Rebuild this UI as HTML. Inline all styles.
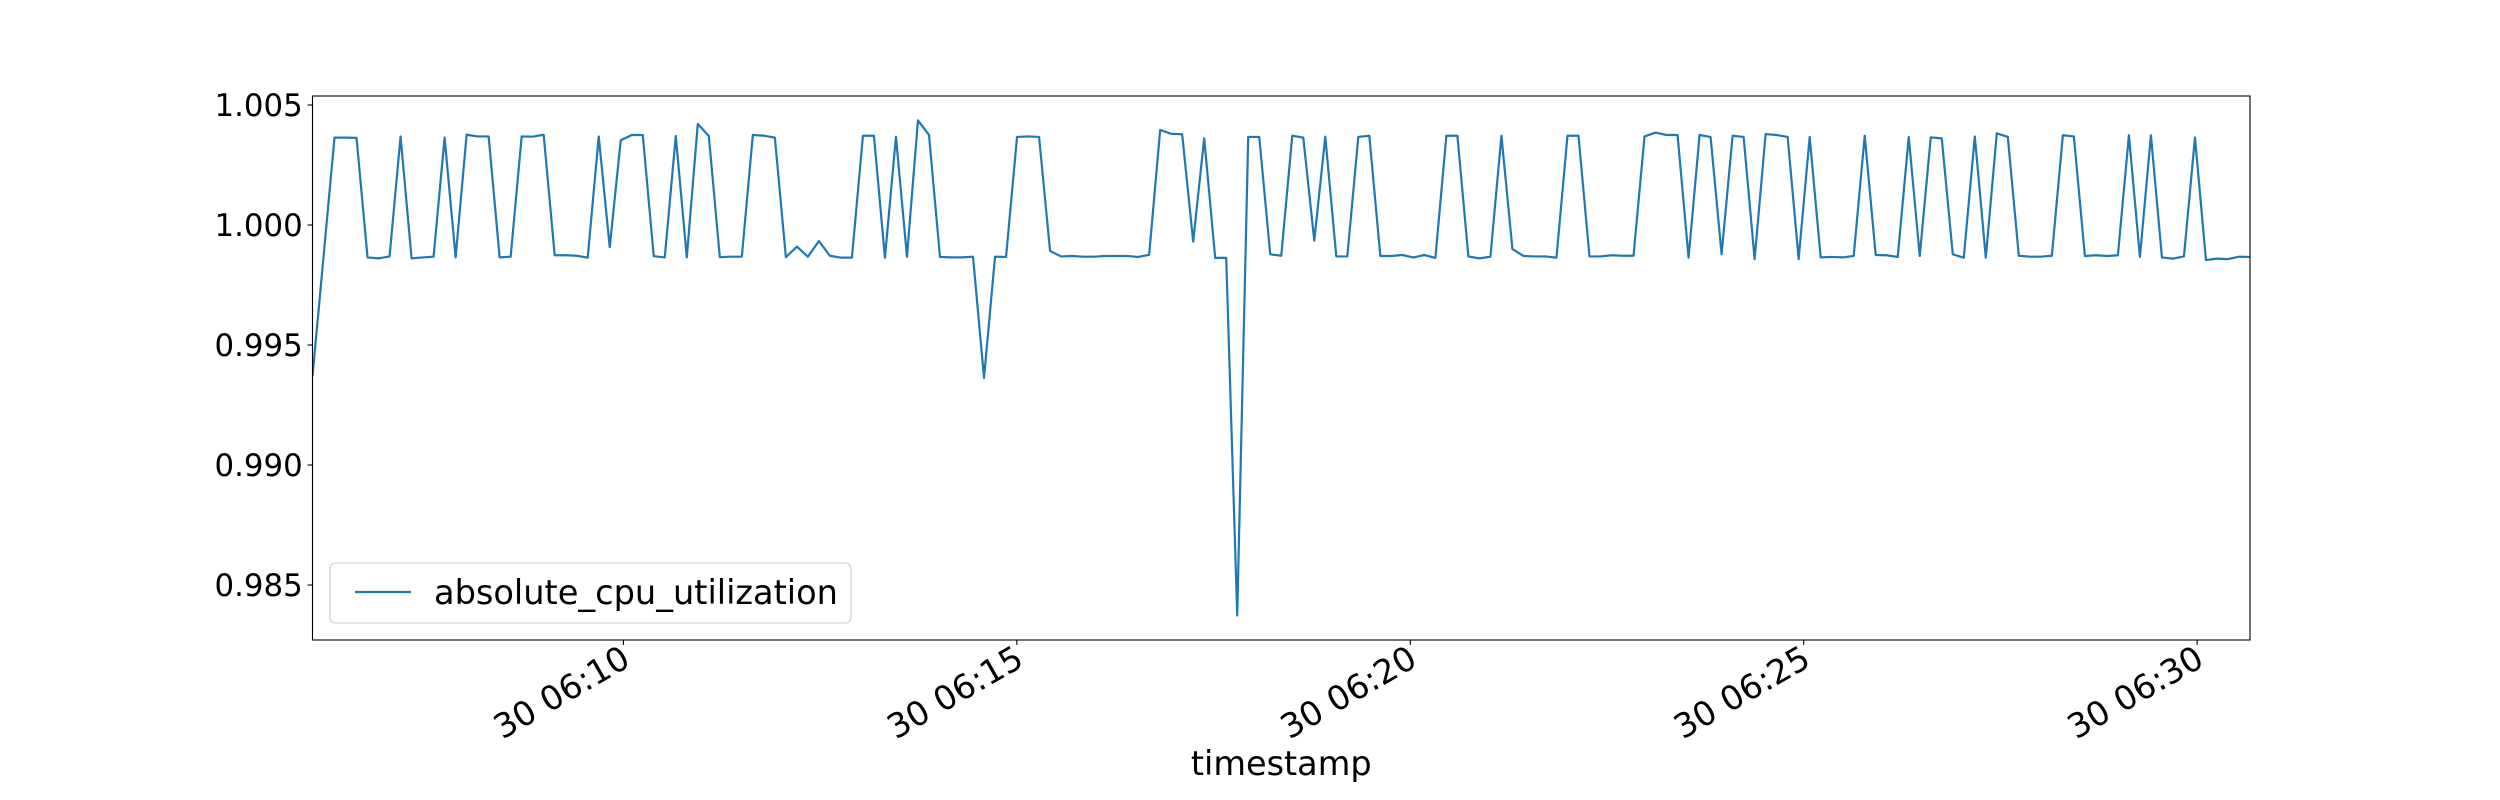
<!DOCTYPE html>
<html>
<head>
<meta charset="utf-8">
<style>
  html, body { margin: 0; padding: 0; background: #fff; }
  svg { display: block; }
  text { font-family: "DejaVu Sans", "Liberation Sans", sans-serif; fill: #000; }
</style>
</head>
<body>
<svg id="chart" width="2500" height="800" viewBox="0 0 2500 800" xmlns="http://www.w3.org/2000/svg">
  <rect x="0" y="0" width="2500" height="800" fill="#fff"/>
  <g id="plot"></g>
</svg>
<script>
// ---- data ----
const seriesName = "absolute_cpu_utilization";
const startSeconds = 21962.9;      // 06:06:02.9
const intervalSeconds = 8.3944;
const cpuValues = [
0.99370,0.99867,1.00364,1.00364,1.00363,0.99865,0.99861,0.99869,1.00369,0.99861,
0.99865,0.99868,1.00364,0.99865,1.00376,1.00369,1.00369,0.99865,0.99868,1.00369,
1.00368,1.00376,0.99874,0.99874,0.99872,0.99864,1.00369,0.99908,1.00353,1.00375,
1.00375,0.99870,0.99865,1.00371,0.99865,1.00421,1.00371,0.99866,0.99868,0.99868,
1.00375,1.00372,1.00364,0.99866,0.99910,0.99868,0.99933,0.99872,0.99864,0.99864,
1.00372,1.00372,0.99864,1.00368,0.99868,1.00436,1.00375,0.99867,0.99865,0.99865,
0.99868,0.99363,0.99868,0.99867,1.00367,1.00369,1.00367,0.99892,0.99869,0.99871,
0.99868,0.99868,0.99871,0.99871,0.99871,0.99867,0.99876,1.00396,1.00380,1.00378,
0.99931,1.00361,0.99863,0.99863,0.98373,1.00367,1.00367,0.99878,0.99872,1.00372,
1.00364,0.99935,1.00368,0.99869,0.99869,1.00367,1.00372,0.99871,0.99871,0.99875,
0.99865,0.99875,0.99863,1.00372,1.00372,0.99869,0.99861,0.99868,1.00372,0.99900,
0.99871,0.99869,0.99869,0.99864,1.00372,1.00372,0.99869,0.99869,0.99874,0.99872,
0.99872,1.00369,1.00385,1.00375,1.00375,0.99864,1.00375,1.00367,0.99878,1.00372,
1.00367,0.99858,1.00379,1.00375,1.00367,0.99858,1.00367,0.99865,0.99867,0.99865,
0.99871,1.00372,0.99875,0.99874,0.99867,1.00367,0.99871,1.00365,1.00361,0.99878,
0.99864,1.00369,0.99864,1.00382,1.00367,0.99872,0.99868,0.99868,0.99872,1.00374,
1.00369,0.99871,0.99874,0.99871,0.99874,1.00374,0.99867,1.00374,0.99865,0.99860,
0.99869,1.00364,0.99854,0.99860,0.99858,0.99868,0.99867
];
const yTickValues = [0.985, 0.990, 0.995, 1.000, 1.005];
const yTickLabels = ["0.985", "0.990", "0.995", "1.000", "1.005"];
const xTickMinutes = [10, 15, 20, 25, 30];
const xTickLabels = ["30 06:10", "30 06:15", "30 06:20", "30 06:25", "30 06:30"];

// ---- layout ----
const L = 312.5, R = 2250, T = 96, B = 640;
const yMin = 0.982710, yMax = 1.005375;
const tEnd = startSeconds + intervalSeconds * (cpuValues.length - 1);
const xScale = t => L + (t - startSeconds) / (tEnd - startSeconds) * (R - L);
const yScale = v => B - (v - yMin) / (yMax - yMin) * (B - T);
const NS = "http://www.w3.org/2000/svg";
const plot = document.getElementById("plot");
function mk(tag, attrs, parent) {
  const e = document.createElementNS(NS, tag);
  for (const k in attrs) e.setAttribute(k, attrs[k]);
  (parent || plot).appendChild(e);
  return e;
}

const defs = mk("defs", {});
const cp = mk("clipPath", { id: "clipArea" }, defs);
mk("rect", { x: L, y: T, width: R - L, height: B - T }, cp);

// series line
const pts = cpuValues.map((v, i) => xScale(startSeconds + i * intervalSeconds).toFixed(2) + "," + yScale(v).toFixed(2)).join(" ");
const line = mk("polyline", { points: pts, fill: "none", stroke: "#1f77b4", "stroke-width": 2.2, "stroke-linejoin": "round", "clip-path": "url(#clipArea)" });



// frame
const frame = mk("rect", { x: L, y: T, width: R - L, height: B - T, fill: "none", stroke: "#000", "stroke-width": 1.1 });



// y ticks
yTickValues.forEach((v, i) => {
  const y = yScale(v);
  const tk = mk("line", { x1: L - 4.9, x2: L, y1: y, y2: y, stroke: "#000", "stroke-width": 1.1 });
  
  
  const tx = mk("text", { x: L - 9.8, y: y + 11, "text-anchor": "end", "font-size": 30.8 });
  tx.textContent = yTickLabels[i];
  
  
});

// x ticks
xTickMinutes.forEach((m, i) => {
  const x = xScale(6 * 3600 + m * 60);
  const tk = mk("line", { x1: x, x2: x, y1: B, y2: B + 4.9, stroke: "#000", "stroke-width": 1.1 });
  
  
  const tx = mk("text", { transform: "translate(" + x + "," + (B + 9.8) + ") rotate(-30)", "text-anchor": "end", "font-size": 33.5, dy: "0.52em", x: 0, y: 0 });
  tx.textContent = xTickLabels[i];
  
  
});

// x axis title
const xt = mk("text", { x: (L + R) / 2, y: 775, "text-anchor": "middle", "font-size": 33.5 });
xt.textContent = "timestamp";



// legend
const lg = mk("g", {});


mk("rect", { x: 330, y: 563, width: 521, height: 60, rx: 5.5, fill: "#fff", "fill-opacity": 0.8, stroke: "#cccccc", "stroke-width": 1.1 }, lg);
const ll = mk("line", { x1: 355, x2: 411, y1: 592, y2: 592, stroke: "#1f77b4", "stroke-width": 2.2 }, lg);


const lt = mk("text", { x: 434, y: 604, "font-size": 33.6 }, lg);
lt.textContent = seriesName;


</script>
</body>
</html>
